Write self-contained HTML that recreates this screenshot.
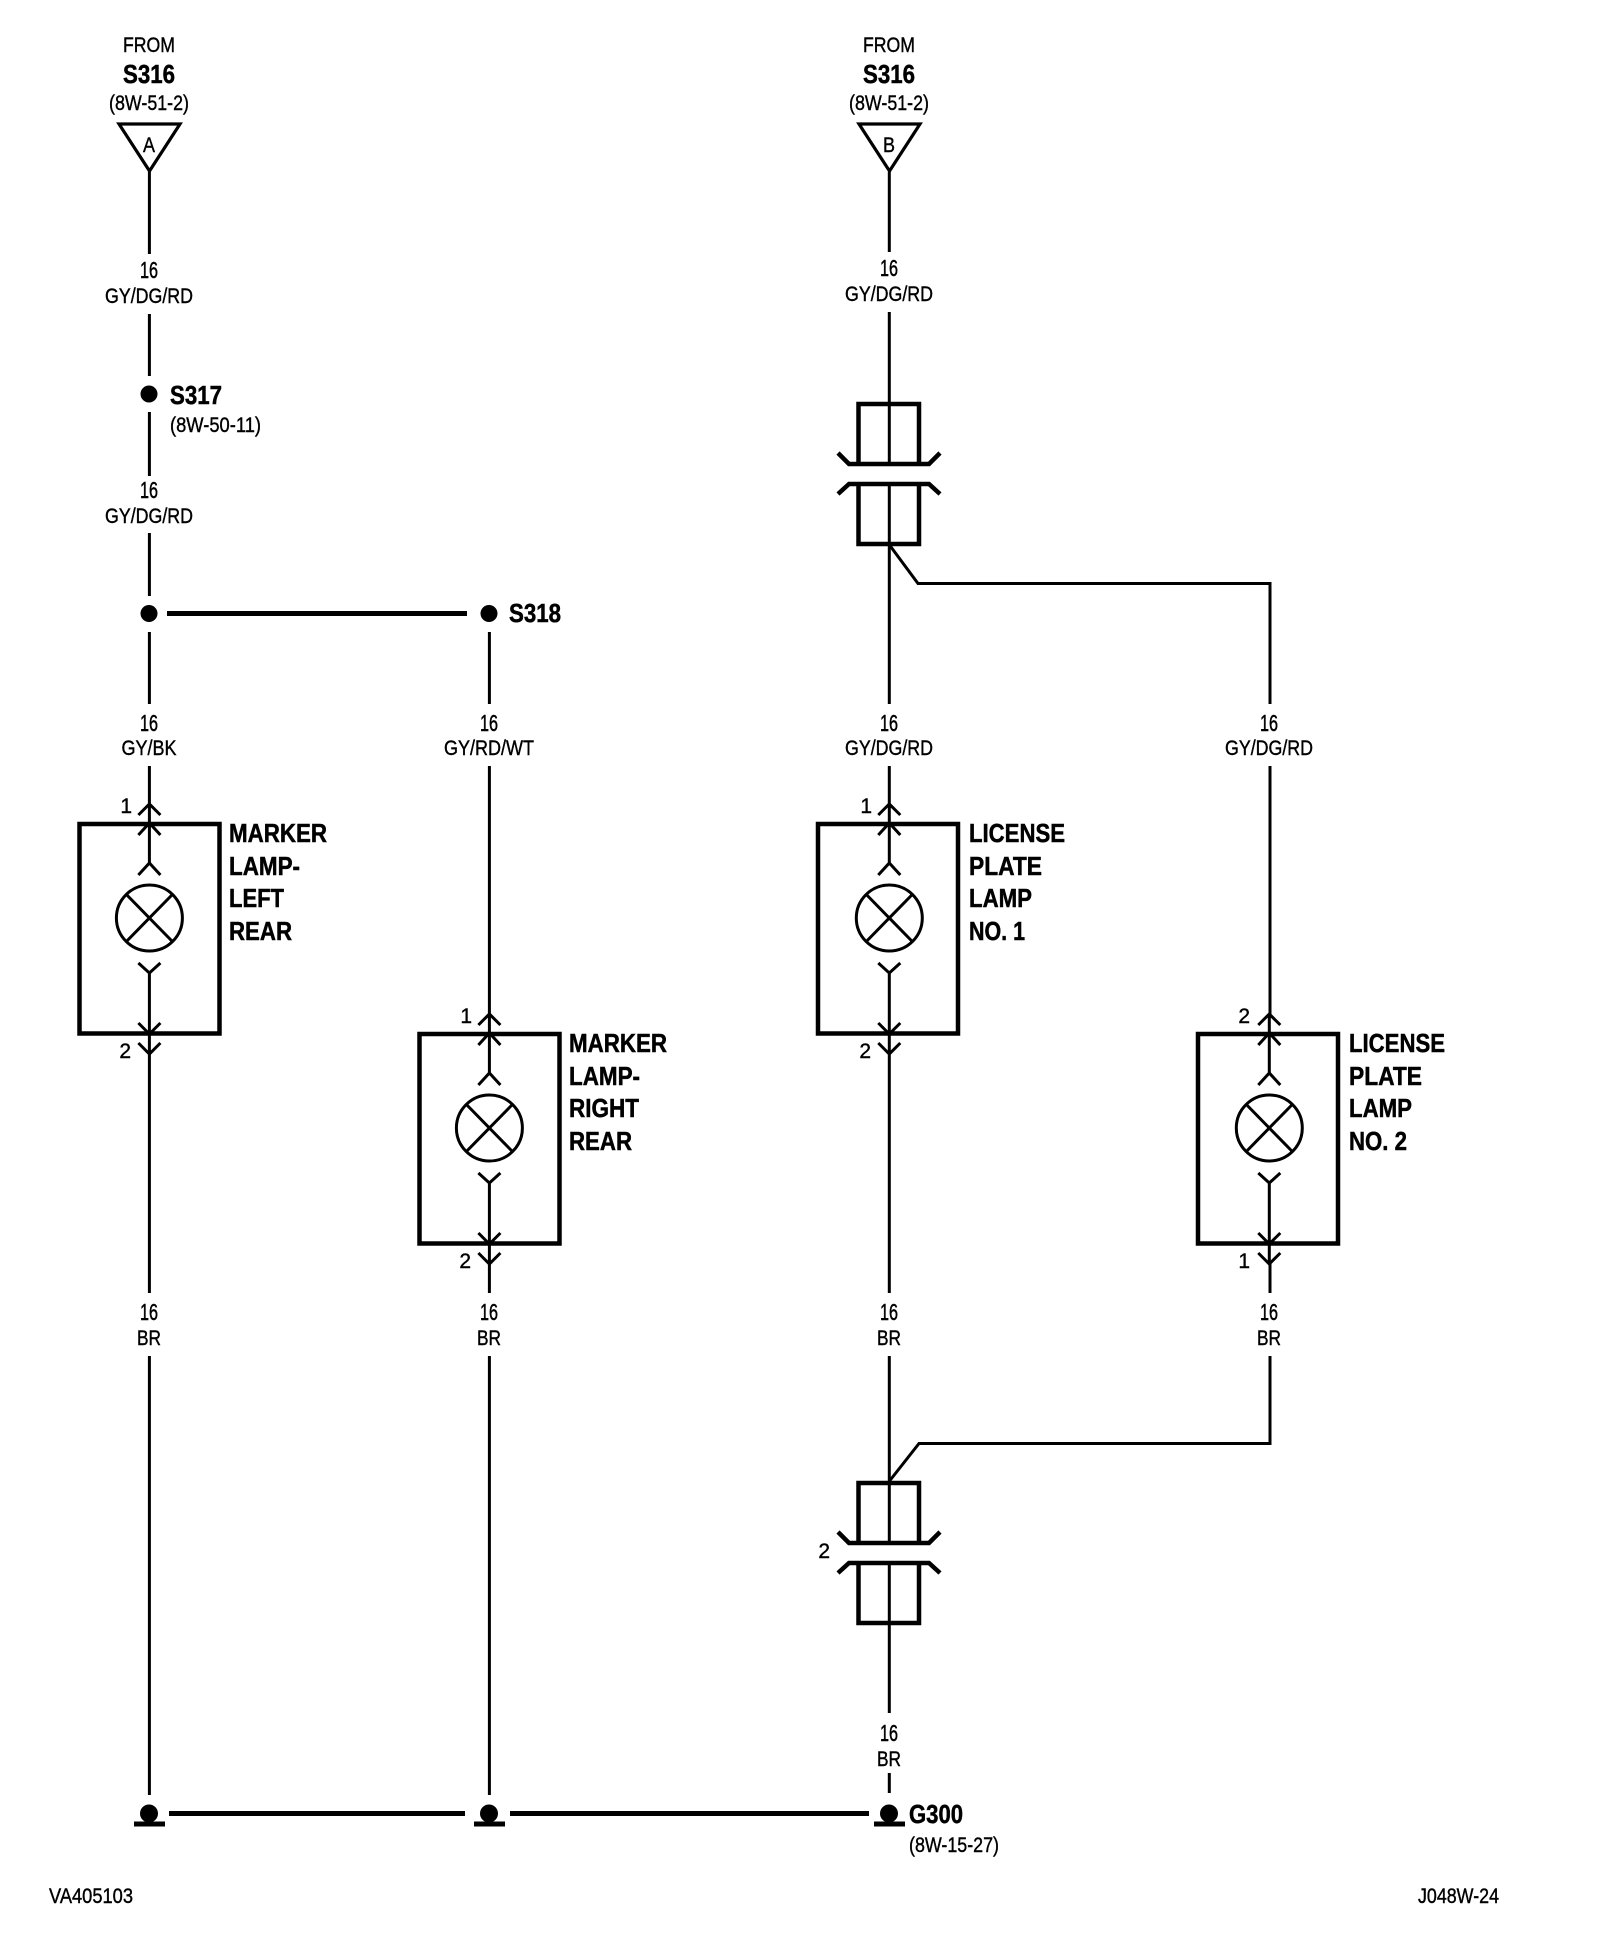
<!DOCTYPE html>
<html>
<head>
<meta charset="utf-8">
<style>
html,body{margin:0;padding:0;background:#fff;width:1600px;height:1960px;overflow:hidden}
svg{display:block}
text{font-family:"Liberation Sans",Arial,sans-serif;fill:#000;text-anchor:middle;font-size:21px;stroke:#000;stroke-width:.4}
.l{text-anchor:start}
.e{text-anchor:end}
.n{font-size:23px;stroke-width:.5}
.b{font-weight:bold;font-size:26px;stroke-width:.5}
.w{fill:none;stroke:#000;stroke-width:3}
.t{fill:none;stroke:#000;stroke-width:4.5}
.h{fill:none;stroke:#000;stroke-width:5}
.tr{fill:none;stroke:#000;stroke-width:3.2}
</style>
</head>
<body>
<svg width="1600" height="1960" viewBox="0 0 1600 1960" xmlns="http://www.w3.org/2000/svg">
<defs>
<rect id="box" class="t" x="79.5" y="824" width="140" height="209.5"/>
<g id="lamp">
  <path class="w" d="M149 804V863M138 815L149 804L160 815M138 835L149 823L160 835M138 875L149 863L160 875"/>
  <circle class="w" cx="149" cy="918" r="33"/>
  <path class="w" d="M126.500 895L171.500 941M171.500 895L126.500 941"/>
  <path class="w" d="M149 973V1054M138 963L149 973L160 963M138 1023L149 1034L160 1023M138 1043L149 1054L160 1043"/>
</g>
<g id="splice">
  <path class="t" d="M858.500 464V404H919V464M858.500 484V544H919V484"/>
  <path class="t" d="M838 453L849 464H929L940 453M838 494L849 484H929L940 494"/>
</g>
<g id="tri">
  <path class="tr" d="M119 124H180L149.500 171Z"/>
</g>
<g id="gnd">
  <circle cx="149" cy="1813.500" r="9"/>
  <rect x="134" y="1821.500" width="31" height="5"/>
</g>
</defs>

<!-- Column 1 -->
<use href="#tri"/>
<text x="149" y="52" textLength="52" lengthAdjust="spacingAndGlyphs">FROM</text>
<text class="b" x="149" y="83" textLength="52" lengthAdjust="spacingAndGlyphs">S316</text>
<text x="149" y="110" textLength="80" lengthAdjust="spacingAndGlyphs">(8W-51-2)</text>
<text x="149" y="152" textLength="12" lengthAdjust="spacingAndGlyphs">A</text>
<path class="w" d="M149.400 172V254M149.400 314V376M149.400 412V476M149.400 533V596M149.400 632V704M149.400 766V804M149.400 1054V1293M149.400 1356V1795"/>
<text class="n" x="149" y="278" textLength="18" lengthAdjust="spacingAndGlyphs">16</text>
<text x="149" y="303" textLength="88" lengthAdjust="spacingAndGlyphs">GY/DG/RD</text>
<circle cx="149" cy="394" r="8.500"/>
<text class="b l" x="170" y="404" textLength="52" lengthAdjust="spacingAndGlyphs">S317</text>
<text class="l" x="170" y="432" textLength="91" lengthAdjust="spacingAndGlyphs">(8W-50-11)</text>
<text class="n" x="149" y="498" textLength="18" lengthAdjust="spacingAndGlyphs">16</text>
<text x="149" y="523" textLength="88" lengthAdjust="spacingAndGlyphs">GY/DG/RD</text>
<circle cx="149" cy="613.500" r="8.500"/>
<path class="h" d="M167 613.500H467"/>
<text class="n" x="149" y="731" textLength="18" lengthAdjust="spacingAndGlyphs">16</text>
<text x="149" y="755" textLength="55" lengthAdjust="spacingAndGlyphs">GY/BK</text>
<use href="#box"/>
<use href="#lamp" transform="translate(0.400,0)"/>
<text class="e" x="132" y="813">1</text>
<text class="e" x="131" y="1058">2</text>
<text class="b l" x="229" y="842" textLength="98" lengthAdjust="spacingAndGlyphs">MARKER</text>
<text class="b l" x="229" y="875" textLength="71" lengthAdjust="spacingAndGlyphs">LAMP-</text>
<text class="b l" x="229" y="907" textLength="55" lengthAdjust="spacingAndGlyphs">LEFT</text>
<text class="b l" x="229" y="940" textLength="63" lengthAdjust="spacingAndGlyphs">REAR</text>
<text class="n" x="149" y="1320" textLength="18" lengthAdjust="spacingAndGlyphs">16</text>
<text x="149" y="1345" textLength="24" lengthAdjust="spacingAndGlyphs">BR</text>
<use href="#gnd"/>
<path class="h" d="M169 1813.500H465"/>

<!-- Column 2 -->
<circle cx="489" cy="613.500" r="8.500"/>
<text class="b l" x="509" y="622" textLength="52" lengthAdjust="spacingAndGlyphs">S318</text>
<path class="w" d="M489.400 632V704M489.400 766V1014M489.400 1264V1293M489.400 1356V1795"/>
<text class="n" x="489" y="731" textLength="18" lengthAdjust="spacingAndGlyphs">16</text>
<text x="489" y="755" textLength="90" lengthAdjust="spacingAndGlyphs">GY/RD/WT</text>
<use href="#box" transform="translate(340,210)"/>
<use href="#lamp" transform="translate(340.400,210)"/>
<text class="e" x="472" y="1023">1</text>
<text class="e" x="471" y="1268">2</text>
<text class="b l" x="569" y="1052" textLength="98" lengthAdjust="spacingAndGlyphs">MARKER</text>
<text class="b l" x="569" y="1085" textLength="71" lengthAdjust="spacingAndGlyphs">LAMP-</text>
<text class="b l" x="569" y="1117" textLength="70" lengthAdjust="spacingAndGlyphs">RIGHT</text>
<text class="b l" x="569" y="1150" textLength="63" lengthAdjust="spacingAndGlyphs">REAR</text>
<text class="n" x="489" y="1320" textLength="18" lengthAdjust="spacingAndGlyphs">16</text>
<text x="489" y="1345" textLength="24" lengthAdjust="spacingAndGlyphs">BR</text>
<use href="#gnd" transform="translate(340,0)"/>
<path class="h" d="M510 1813.500H869"/>

<!-- Column 3 -->
<use href="#tri" transform="translate(740,0)"/>
<text x="889" y="52" textLength="52" lengthAdjust="spacingAndGlyphs">FROM</text>
<text class="b" x="889" y="83" textLength="52" lengthAdjust="spacingAndGlyphs">S316</text>
<text x="889" y="110" textLength="80" lengthAdjust="spacingAndGlyphs">(8W-51-2)</text>
<text x="889" y="152" textLength="12" lengthAdjust="spacingAndGlyphs">B</text>
<path class="w" d="M889.300 172V252M889.300 312V464M889.300 484V704M889.300 766V804M889.300 1054V1293M889.300 1356V1543M889.300 1563V1713M889.300 1773V1793"/>
<text class="n" x="889" y="276" textLength="18" lengthAdjust="spacingAndGlyphs">16</text>
<text x="889" y="301" textLength="88" lengthAdjust="spacingAndGlyphs">GY/DG/RD</text>
<use href="#splice"/>
<use href="#splice" transform="translate(0,1079)"/>
<text class="e" x="830" y="1558">2</text>
<text class="n" x="889" y="731" textLength="18" lengthAdjust="spacingAndGlyphs">16</text>
<text x="889" y="755" textLength="88" lengthAdjust="spacingAndGlyphs">GY/DG/RD</text>
<use href="#box" transform="translate(738.500,0)"/>
<use href="#lamp" transform="translate(740.300,0)"/>
<text class="e" x="872" y="813">1</text>
<text class="e" x="871" y="1058">2</text>
<text class="b l" x="969" y="842" textLength="96" lengthAdjust="spacingAndGlyphs">LICENSE</text>
<text class="b l" x="969" y="875" textLength="73" lengthAdjust="spacingAndGlyphs">PLATE</text>
<text class="b l" x="969" y="907" textLength="63" lengthAdjust="spacingAndGlyphs">LAMP</text>
<text class="b l" x="969" y="940" textLength="56" lengthAdjust="spacingAndGlyphs">NO. 1</text>
<text class="n" x="889" y="1320" textLength="18" lengthAdjust="spacingAndGlyphs">16</text>
<text x="889" y="1345" textLength="24" lengthAdjust="spacingAndGlyphs">BR</text>
<text class="n" x="889" y="1741" textLength="18" lengthAdjust="spacingAndGlyphs">16</text>
<text x="889" y="1766" textLength="24" lengthAdjust="spacingAndGlyphs">BR</text>
<use href="#gnd" transform="translate(740,0)"/>
<text class="b l" x="909" y="1823" textLength="54" lengthAdjust="spacingAndGlyphs">G300</text>
<text class="l" x="909" y="1852" textLength="90" lengthAdjust="spacingAndGlyphs">(8W-15-27)</text>

<!-- Column 4 -->
<path class="w" d="M889.500 545L918 583.500H1270V704M1270 766V1014M1270 1264V1293M1270 1356V1443.500H919L889.500 1481"/>
<text class="n" x="1269" y="731" textLength="18" lengthAdjust="spacingAndGlyphs">16</text>
<text x="1269" y="755" textLength="88" lengthAdjust="spacingAndGlyphs">GY/DG/RD</text>
<use href="#box" transform="translate(1118.500,210)"/>
<use href="#lamp" transform="translate(1120.300,210)"/>
<text class="e" x="1250" y="1023">2</text>
<text class="e" x="1250" y="1268">1</text>
<text class="b l" x="1349" y="1052" textLength="96" lengthAdjust="spacingAndGlyphs">LICENSE</text>
<text class="b l" x="1349" y="1085" textLength="73" lengthAdjust="spacingAndGlyphs">PLATE</text>
<text class="b l" x="1349" y="1117" textLength="63" lengthAdjust="spacingAndGlyphs">LAMP</text>
<text class="b l" x="1349" y="1150" textLength="58" lengthAdjust="spacingAndGlyphs">NO. 2</text>
<text class="n" x="1269" y="1320" textLength="18" lengthAdjust="spacingAndGlyphs">16</text>
<text x="1269" y="1345" textLength="24" lengthAdjust="spacingAndGlyphs">BR</text>

<!-- Footer -->
<text class="l" x="49" y="1903" textLength="84" lengthAdjust="spacingAndGlyphs">VA405103</text>
<text class="l" x="1418" y="1903" textLength="81" lengthAdjust="spacingAndGlyphs">J048W-24</text>
</svg>
</body>
</html>
